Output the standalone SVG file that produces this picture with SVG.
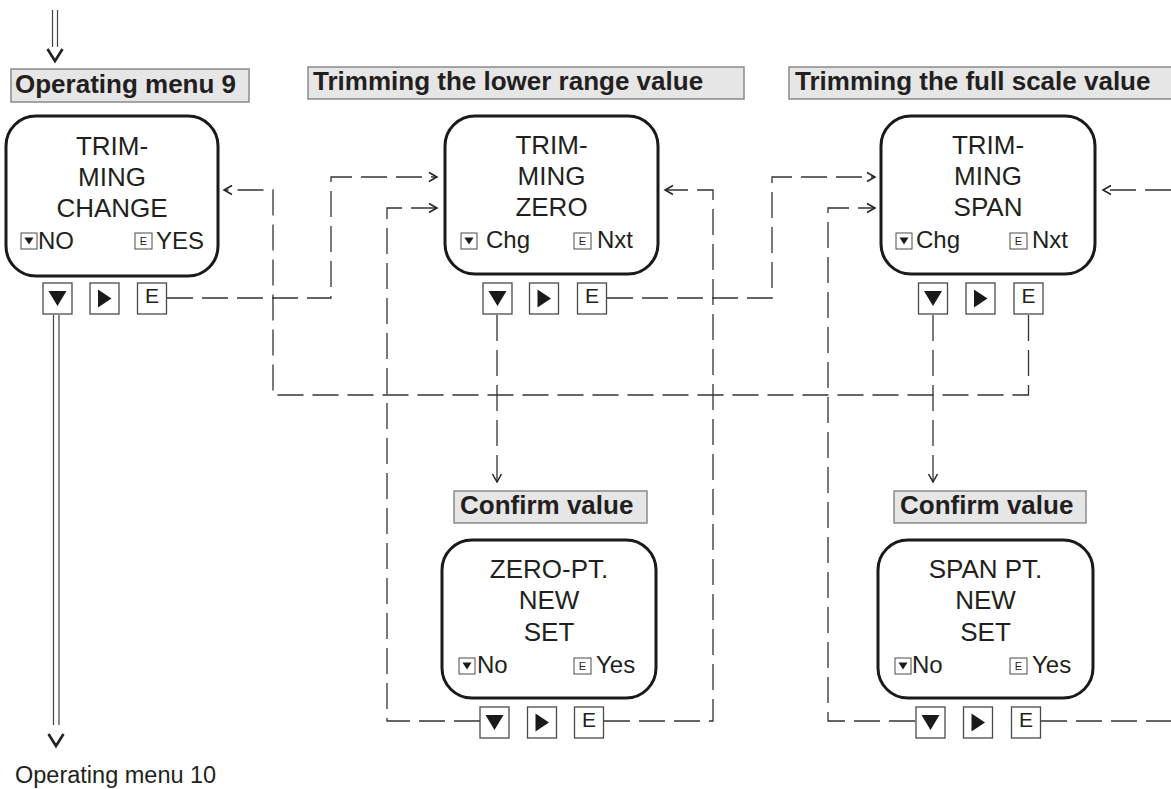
<svg xmlns="http://www.w3.org/2000/svg" xmlns:xlink="http://www.w3.org/1999/xlink" width="1171" height="789" viewBox="0 0 1171 789">
<style>
text{font-family:"Liberation Sans",Arial,sans-serif;fill:#231f20}
.hb{fill:#e6e6e7;stroke:#8a8a8a;stroke-width:1.5}
.ht{font-size:26px;font-weight:bold}
.nd{fill:#fff;stroke:#1a1a1a;stroke-width:3}
.nt{font-size:26px;text-anchor:middle}
.bt{font-size:24px}
.btn{fill:#fff;stroke:#4a4a4a;stroke-width:1.3}
.ico{fill:#fff;stroke:#4a4a4a;stroke-width:1}
.et{font-size:21px;text-anchor:middle}
.ei{font-size:11px;text-anchor:middle}
.dl{fill:none;stroke:#333;stroke-width:1.3;stroke-dasharray:26 9}
.sl{fill:none;stroke:#444;stroke-width:1.2}
.tri{fill:#1a1a1a}
</style>
<defs>
<marker id="chev" markerUnits="userSpaceOnUse" markerWidth="14" markerHeight="14" refX="9" refY="5" orient="auto" viewBox="0 0 14 14" overflow="visible">
<path d="M1,0.5 L9,5 L1,9.5" fill="none" stroke="#222" stroke-width="1.5" stroke-dasharray="none"/>
</marker>
<g id="bDown"><rect class="btn" x="0" y="0" width="29" height="31"/><path class="tri" d="M5.5,8 H23.5 L14.5,23 Z"/></g>
<g id="bRight"><rect class="btn" x="0" y="0" width="29" height="31"/><path class="tri" d="M8,6.5 L21.5,15.5 L8,24.5 Z"/></g>
<rect id="bBox" class="btn" x="0" y="0" width="29" height="31"/>
<g id="iDown"><rect class="ico" x="0" y="0" width="16" height="16"/><path class="tri" d="M3.5,4.5 H12.5 L8,11.5 Z"/></g>
<rect id="iBox" class="ico" x="0" y="0" width="17" height="16"/>
</defs>

<g id="connectors">
<path class="dl" d="M167,298 H331 V177 H437" marker-end="url(#chev)"/>
<path class="dl" d="M607,298 H772 V177 H875" marker-end="url(#chev)"/>
<path class="dl" d="M497,315 V482" marker-end="url(#chev)"/>
<path class="dl" d="M933,315 V482" marker-end="url(#chev)"/>
<path class="dl" d="M1028.5,315 V395 H273 V190 H224" marker-end="url(#chev)"/>
<path class="dl" d="M480,721 H387 V208 H437" marker-end="url(#chev)"/>
<path class="dl" d="M604,721 H713 V190 H665" marker-end="url(#chev)"/>
<path class="dl" d="M915,721 H828 V208 H875" marker-end="url(#chev)"/>
<path class="dl" d="M1041,721 H1171"/>
<path class="dl" d="M1171,190 H1103" marker-end="url(#chev)"/>
<g id="entry">
<line class="sl" x1="52.5" y1="10" x2="52.5" y2="47"/>
<line class="sl" x1="57.5" y1="10" x2="57.5" y2="47"/>
<path d="M47.5,49 L55,61 L62.5,49" fill="none" stroke="#222" stroke-width="2.6"/>
</g>
<g id="exit">
<line class="sl" x1="53.5" y1="315" x2="53.5" y2="725"/>
<line class="sl" x1="59" y1="315" x2="59" y2="725"/>
<path d="M48.5,734 L56,746 L63.5,734" fill="none" stroke="#222" stroke-width="2.6"/>
</g>
</g>

<g id="menu9">
<rect class="hb" x="11" y="69" width="238" height="33"/>
<text class="ht" x="15" y="93">Operating menu 9</text>
<rect class="nd" x="6" y="116" width="212" height="160" rx="30"/>
<text class="nt" x="112" y="155">TRIM-</text>
<text class="nt" x="112" y="186">MING</text>
<text class="nt" x="112" y="217">CHANGE</text>
<use href="#iDown" x="21" y="233"/>
<text class="bt" x="38" y="249">NO</text>
<use href="#iBox" x="135" y="233"/>
<text class="ei" x="143.5" y="245">E</text>
<text class="bt" x="156" y="249">YES</text>
<use href="#bDown" x="43" y="283"/>
<use href="#bRight" x="90" y="283"/>
<use href="#bBox" x="137.5" y="283"/>
<text class="et" x="152" y="303">E</text>
</g>

<g id="zero">
<rect class="hb" x="308" y="67" width="436" height="32"/>
<text class="ht" x="313" y="90">Trimming the lower range value</text>
<rect class="nd" x="445" y="116" width="213" height="158" rx="30"/>
<text class="nt" x="551.5" y="154">TRIM-</text>
<text class="nt" x="551.5" y="185">MING</text>
<text class="nt" x="551.5" y="216">ZERO</text>
<use href="#iDown" x="461" y="233"/>
<text class="bt" x="486" y="248">Chg</text>
<use href="#iBox" x="574" y="233"/>
<text class="ei" x="582.5" y="245">E</text>
<text class="bt" x="597" y="248">Nxt</text>
<use href="#bDown" x="483" y="283"/>
<use href="#bRight" x="529.5" y="283"/>
<use href="#bBox" x="577.5" y="283"/>
<text class="et" x="592" y="303">E</text>
</g>

<g id="span">
<rect class="hb" x="789" y="67" width="390" height="32"/>
<text class="ht" x="795" y="90">Trimming the full scale value</text>
<rect class="nd" x="881" y="116" width="214" height="158" rx="30"/>
<text class="nt" x="988" y="154">TRIM-</text>
<text class="nt" x="988" y="185">MING</text>
<text class="nt" x="988" y="216">SPAN</text>
<use href="#iDown" x="896" y="233"/>
<text class="bt" x="916" y="248">Chg</text>
<use href="#iBox" x="1010" y="233"/>
<text class="ei" x="1018.5" y="245">E</text>
<text class="bt" x="1032" y="248">Nxt</text>
<use href="#bDown" x="918.5" y="283"/>
<use href="#bRight" x="966" y="283"/>
<use href="#bBox" x="1014" y="283"/>
<text class="et" x="1028.5" y="303">E</text>
</g>

<g id="confirmZero">
<rect class="hb" x="454" y="491" width="193" height="32"/>
<text class="ht" x="460" y="514">Confirm value</text>
<rect class="nd" x="442" y="540" width="214" height="158" rx="30"/>
<text class="nt" x="549" y="578">ZERO-PT.</text>
<text class="nt" x="549" y="609">NEW</text>
<text class="nt" x="549" y="641">SET</text>
<use href="#iDown" x="459" y="658"/>
<text class="bt" x="477" y="673">No</text>
<use href="#iBox" x="574" y="658"/>
<text class="ei" x="582.5" y="670">E</text>
<text class="bt" x="596" y="673">Yes</text>
<use href="#bDown" x="480" y="707"/>
<use href="#bRight" x="527.5" y="707"/>
<use href="#bBox" x="574.5" y="707"/>
<text class="et" x="589" y="727">E</text>
</g>

<g id="confirmSpan">
<rect class="hb" x="894" y="491" width="192" height="32"/>
<text class="ht" x="900" y="514">Confirm value</text>
<rect class="nd" x="878" y="540" width="215" height="158" rx="30"/>
<text class="nt" x="985.5" y="578">SPAN PT.</text>
<text class="nt" x="985.5" y="609">NEW</text>
<text class="nt" x="985.5" y="641">SET</text>
<use href="#iDown" x="895" y="658"/>
<text class="bt" x="912" y="673">No</text>
<use href="#iBox" x="1010" y="658"/>
<text class="ei" x="1018.5" y="670">E</text>
<text class="bt" x="1032" y="673">Yes</text>
<use href="#bDown" x="916" y="707"/>
<use href="#bRight" x="963.5" y="707"/>
<use href="#bBox" x="1011.5" y="707"/>
<text class="et" x="1026" y="727">E</text>
</g>

<g id="menu10">
<text x="15" y="783" font-size="23.5">Operating menu 10</text>
</g>
</svg>
